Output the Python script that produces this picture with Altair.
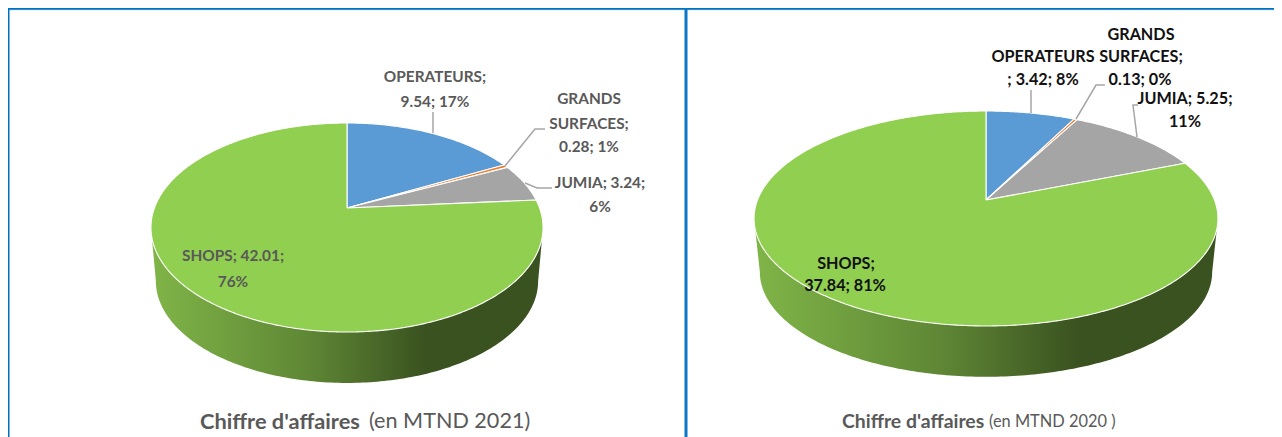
import numpy as np
import pandas as pd
import altair as alt

# ---- values
categories = ["OPERATEURS", "GRANDS SURFACES", "JUMIA", "SHOPS"]
values_2021 = [9.54, 0.28, 3.24, 42.01]
values_2020 = [3.42, 0.13, 5.25, 37.84]
slice_colors = ["#5b9bd5", "#ed7d31", "#a5a5a5", "#91cf50"]

# ---- pie geometry: apex, radius, foreshortening, perspective, thickness
pie_2021 = dict(cx=347, cy=208, R=192.6, S=100.9, p=0.1866, depth=54, lower=0.975)
pie_2020 = dict(cx=986, cy=200, R=228.5, S=104.3, p=0.172, depth=54, lower=0.975)

# ---- labels: text, x, y
labels_2021 = [
    ("OPERATEURS;", 435, 77), ("9.54; 17%", 435, 102),
    ("GRANDS", 589, 99), ("SURFACES;", 589, 124), ("0.28; 1%", 589, 147),
    ("JUMIA; 3.24;", 600, 183), ("6%", 600, 207),
    ("SHOPS; 42.01;", 233, 256), ("76%", 233, 282),
]
labels_2020 = [
    ("OPERATEURS", 1043, 57), ("; 3.42; 8%", 1043, 80),
    ("GRANDS", 1141, 35), ("SURFACES;", 1141, 57), ("0.13; 0%", 1140, 80),
    ("JUMIA; 5.25;", 1185, 99), ("11%", 1185, 122),
    ("SHOPS;", 846, 264), ("37.84; 81%", 845, 286),
]

# ---- leader lines
leaders = [
    [(433, 133), (433, 112)],
    [(505, 166), (535, 129), (545, 129)],
    [(525, 183), (537, 188), (552, 188)],
    [(1031, 113), (1031, 90)],
    [(1076, 119), (1096, 85), (1105, 85)],
    [(1137, 137), (1133, 105), (1138, 105)],
]

# ---- frame rules
frame_lines = [
    ("#0070c0", 2.0, [(8, 8.5), (1274, 8.5)]),
    ("#2a8ad0", 1.0, [(8, 9.6), (1274, 9.6)]),
    ("#0070c0", 2.0, [(8.5, 8), (8.5, 437)]),
    ("#0a76c8", 3.0, [(686, 8), (686, 437)]),
]

X = alt.X("x:Q", scale=alt.Scale(domain=[8, 1274], nice=False, zero=False), axis=None)
Y = alt.Y("y:Q", scale=alt.Scale(domain=[437, 8], nice=False, zero=False), axis=None)


def project(g, theta, scale=1.0, dy=0.0):
    u, v = np.sin(theta), np.cos(theta)
    d = 1 + g["p"] * v
    return (g["cx"] + scale * g["R"] * u / d,
            g["cy"] - scale * g["S"] * v / d + dy)


def frame(xs, ys):
    return pd.DataFrame({"x": xs, "y": ys, "i": np.arange(len(xs))})


def polygon(df, **mark):
    return alt.Chart(df).mark_line(**mark).encode(x=X, y=Y, order=alt.Order("i:Q"))


def pie_layers(values, g):
    layers = []
    tr = np.arccos(-g["p"])
    th = np.linspace(tr, 2 * np.pi - tr, 180)
    x1, y1 = project(g, th)
    x2, y2 = project(g, th[::-1], g["lower"], g["depth"])
    grad = alt.LinearGradient(
        gradient="linear", x1=0, x2=1, y1=0, y2=0,
        stops=[alt.GradientStop(color="#80b548", offset=0),
               alt.GradientStop(color="#5f8735", offset=0.4),
               alt.GradientStop(color="#3a5220", offset=0.7),
               alt.GradientStop(color="#3a5220", offset=1)],
    )
    layers.append(polygon(frame(np.r_[x1, x2], np.r_[y1, y2]),
                          fill=grad, strokeOpacity=0))
    cum = np.r_[0, np.cumsum(values)] / np.sum(values) * 2 * np.pi
    for k, color in enumerate(slice_colors):
        t = np.linspace(cum[k], cum[k + 1], max(3, int((cum[k + 1] - cum[k]) * 90)))
        xs, ys = project(g, t)
        xs = np.r_[g["cx"], xs, g["cx"]]
        ys = np.r_[g["cy"], ys, g["cy"]]
        layers.append(polygon(frame(xs, ys), fill=color, stroke="white",
                              strokeWidth=1.1, strokeJoin="round"))
    return layers


def text_layer(rows, color, size, weight="bold", align="center"):
    df = pd.DataFrame(rows, columns=["t", "x", "y"])
    return alt.Chart(df).mark_text(
        font="Lato", fontSize=size, fontWeight=weight, color=color,
        align=align, baseline="middle",
    ).encode(x=X, y=Y, text="t:N")


layers = []
for color, w, pts in frame_lines:
    layers.append(polygon(frame(*zip(*pts)), stroke=color, strokeWidth=w))
layers += pie_layers(values_2021, pie_2021)
layers += pie_layers(values_2020, pie_2020)
for pts in leaders:
    layers.append(polygon(frame(*zip(*pts)), stroke="#a6a6a6", strokeWidth=1.5))
layers.append(text_layer(labels_2021, "#595959", 15.4))
layers.append(text_layer(labels_2020, "#111111", 16.2))
layers.append(text_layer([("Chiffre d'affaires", 200, 422)], "#595959", 21.8, align="left"))
layers.append(text_layer([("(en MTND  2021)", 369, 422)], "#595959", 21.6, "normal", "left"))
layers.append(text_layer([("Chiffre d'affaires", 842, 422)], "#595959", 19.4, align="left"))
layers.append(text_layer([("(en MTND 2020 )", 989, 422)], "#595959", 16.4, "normal", "left"))

chart = alt.layer(*layers).properties(
    width=1266, height=429, padding=0, autosize="none", background="white",
).configure_view(stroke=None)

chart.save("out.html", embed_options={"renderer": "svg", "actions": False})
